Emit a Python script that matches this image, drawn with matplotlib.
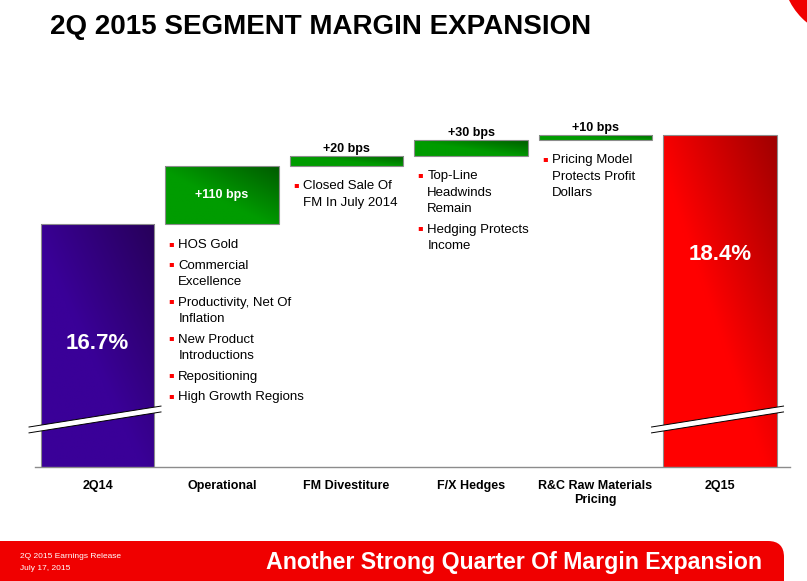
import matplotlib
matplotlib.use('Agg')
import matplotlib.pyplot as plt
import numpy as np
from matplotlib.colors import LinearSegmentedColormap
from matplotlib.patches import FancyBboxPatch, Circle, Polygon

plt.rcParams['font.family'] = ['Liberation Sans', 'DejaVu Sans']

# chart data
categories = ['2Q14', 'Operational', 'FM Divestiture', 'F/X Hedges',
              'R&C Raw Materials\nPricing', '2Q15']
start_margin = 16.7
end_margin = 18.4
deltas_bps = [110, 20, 30, 10]
delta_labels = ['+110 bps', '+20 bps', '+30 bps', '+10 bps']
total_labels = ['16.7%', '18.4%']
notes = [
    [['HOS Gold'], ['Commercial', 'Excellence'], ['Productivity, Net Of', 'Inflation'],
     ['New Product', 'Introductions'], ['Repositioning'], ['High Growth Regions']],
    [['Closed Sale Of', 'FM In July 2014']],
    [['Top-Line', 'Headwinds', 'Remain'], ['Hedging Protects', 'Income']],
    [['Pricing Model', 'Protects Profit', 'Dollars']],
]

YLIM = (12.06, 19.07)
W = 0.91

fig = plt.figure(figsize=(8.07, 5.81), dpi=100)

# background / decoration layer in pixel coords
bg = fig.add_axes([0, 0, 1, 1])
bg.set_xlim(0, 807)
bg.set_ylim(581, 0)
bg.axis('off')
bg.add_patch(FancyBboxPatch((-30, 541), 814, 80, boxstyle='round,pad=0,rounding_size=16',
                            fc='#f00000', ec='none'))
bg.add_patch(Circle((850, -30), 68, fc='#f00000', ec='none'))
bg.text(50, 27, '2Q 2015 SEGMENT MARGIN EXPANSION', ha='left', va='center',
        fontsize=20, fontweight='bold', color='black')
bg.text(762, 563, 'Another Strong Quarter Of Margin Expansion', ha='right', va='center',
        fontsize=16.7, fontweight='bold', color='white')
bg.text(20, 556, '2Q 2015 Earnings Release', ha='left', va='center', fontsize=6, color='white')
bg.text(20, 568, 'July 17, 2015', ha='left', va='center', fontsize=6, color='white')

ax = fig.add_axes([35 / 807, 114 / 581, 755 / 807, 367 / 581])
ax.set_xlim(-0.502, 5.562)
ax.set_ylim(*YLIM)


def gradient_bar(x, bottom, top, light, dark):
    patch = ax.bar(x, top - bottom, bottom=bottom, width=W, fc='none',
                   ec='#8c8c8c', lw=0.8, zorder=3)[0]
    y0 = max(bottom, YLIM[0])
    u, v = np.meshgrid(np.linspace(0, 1, 80), np.linspace(0, 1, 80))
    t = (u + v) / 2
    cmap = LinearSegmentedColormap.from_list('g', [(0, light), (0.45, light), (1, dark)])
    im = ax.imshow(t, extent=(x - W / 2, x + W / 2, y0, top), origin='lower', cmap=cmap,
                   vmin=0, vmax=1, aspect='auto', zorder=2, interpolation='bilinear')
    im.set_clip_path(patch)


x = np.arange(len(categories))

# totals
gradient_bar(x[0], 0, start_margin, '#3a0098', '#27005a')
gradient_bar(x[-1], 0, end_margin, '#ff0000', '#a00000')
for xi, val, lab in [(x[0], start_margin, total_labels[0]), (x[-1], end_margin, total_labels[1])]:
    ax.annotate(lab, (xi, val), xytext=(0, -119), textcoords='offset pixels', ha='center',
                va='center', color='white', fontsize=16, fontweight='bold', zorder=5)

# increments
level = start_margin
for i, (d, lab, items) in enumerate(zip(deltas_bps, delta_labels, notes)):
    xi = x[i + 1]
    bottom = level
    top = level + d / 100
    gradient_bar(xi, bottom, top, '#009c00', '#005c00')
    if d >= 100:
        ax.text(xi, (bottom + top) / 2, lab, ha='center', va='center', color='white',
                fontsize=9, fontweight='bold', zorder=5)
    else:
        ax.annotate(lab, (xi, top), xytext=(0, 1), textcoords='offset pixels', ha='center',
                    va='bottom', color='black', fontsize=9, fontweight='bold')
    # bullet notes under the bar
    off = -21 if d >= 100 else -20
    for item in items:
        ax.annotate('▪', (xi - W / 2, bottom), xytext=(6, off + 2), textcoords='offset pixels',
                    ha='center', va='center', color='#ff0000', fontsize=6,
                    family='DejaVu Sans')
        for j, line in enumerate(item):
            ax.annotate(line, (xi - W / 2, bottom), xytext=(13, off), textcoords='offset pixels',
                        ha='left', va='center', color='black', fontsize=9.5)
            off -= 16.5 if j < len(item) - 1 else 20.5
    level = top

# axis break marks on the two total bars
trans = ax.get_xaxis_transform()
h = 0.008
for xi in [x[0], x[-1]]:
    xl, xr = xi - 0.55, xi + 0.51
    yl, yr = 0.101, 0.158
    ax.add_patch(Polygon([(xl, yl - h), (xr, yr - h), (xr, yr + h), (xl, yl + h)],
                         closed=True, fc='white', ec='none', transform=trans,
                         zorder=6, clip_on=False))
    for s in (-h, h):
        ax.plot([xl, xr], [yl + s, yr + s], color='black', lw=0.7, transform=trans,
                zorder=7, clip_on=False)

ax.set_xlim(-0.502, 5.562)
ax.set_ylim(*YLIM)
ax.set_xticks(x)
ax.set_xticklabels(categories, fontsize=9, fontweight='bold')
for t in ax.get_xticklabels():
    t.set_linespacing(1.25)
ax.tick_params(axis='x', length=0, pad=9.5)
ax.set_yticks([])
for s in ['left', 'top', 'right']:
    ax.spines[s].set_visible(False)
ax.spines['bottom'].set_color('#8c8c8c')
ax.spines['bottom'].set_linewidth(1)
ax.patch.set_alpha(0)

fig.savefig('out.png', dpi=100)
